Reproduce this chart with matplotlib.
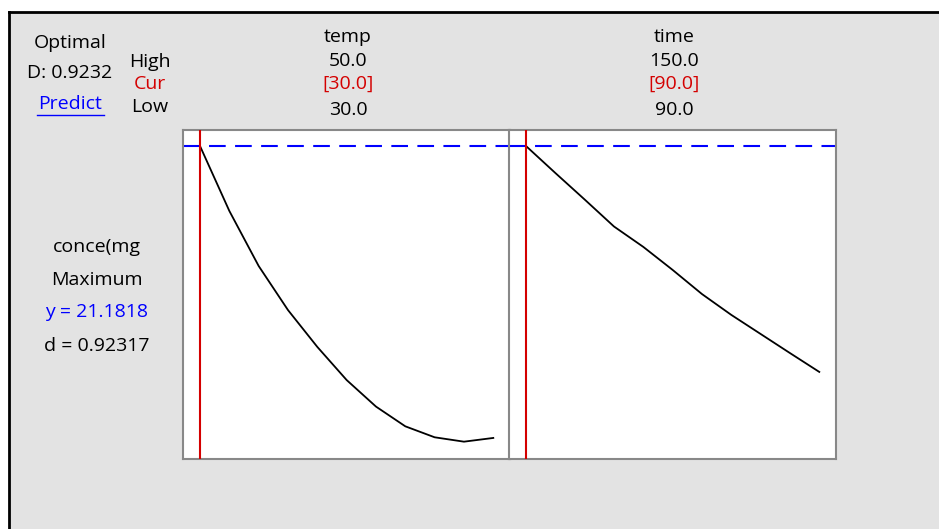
"""
Minitab style response optimizer plot: conce(mg vs temp and time
"""

import matplotlib

matplotlib.use('Agg')

import matplotlib.pyplot as plt
from matplotlib.patches import Rectangle
from matplotlib.lines import Line2D

# data
temp_vals = [30, 32, 34, 36, 38, 40, 42, 44, 46, 48, 50]
temp_resp = [21.18, 18.22, 15.71, 13.70, 12.02, 10.51, 9.30, 8.40, 7.90, 7.70, 7.87]
time_vals = [90, 96, 102, 108, 114, 120, 126, 132, 138, 144, 150]
time_resp = [21.18, 19.95, 18.74, 17.51, 16.58, 15.53, 14.43, 13.48, 12.61, 11.74, 10.88]

factors = ['temp', 'time']
high = [50.0, 150.0]
low = [30.0, 90.0]
cur = [30.0, 90.0]
y_opt = 21.1818
d_opt = 0.92317
D_total = 0.9232
y_lim = (6.91, 21.91)

W, H = 939, 529
plt.rcParams['font.family'] = ['Open Sans', 'DejaVu Sans']
FS = 14
RED = '#d40000'
BLUE = '#0000ff'

fig = plt.figure(figsize=(W / 100, H / 100), dpi=100, facecolor='white')


def fx(px):
    return px / W


def fy(py):
    return 1 - py / H


# gray background panel with black border on top/left
fig.patches.append(Rectangle((fx(9), 0), 1 - fx(9) + 0.01, fy(12), transform=fig.transFigure,
                             facecolor='#e3e3e3', edgecolor='none', zorder=-5))
fig.lines.append(Line2D([fx(9), 1], [fy(12), fy(12)], transform=fig.transFigure, color='black', lw=2))
fig.lines.append(Line2D([fx(9), fx(9)], [0, fy(12)], transform=fig.transFigure, color='black', lw=2))

# left header
fig.text(fx(70), fy(43), 'Optimal', ha='center', va='center', fontsize=FS)
fig.text(fx(70), fy(73), f'D: {D_total:.4f}', ha='center', va='center', fontsize=FS)
fig.text(fx(70), fy(104), 'Predict', ha='center', va='center', fontsize=FS, color=BLUE)
fig.lines.append(Line2D([fx(37), fx(104)], [fy(115), fy(115)], transform=fig.transFigure, color=BLUE, lw=1))
fig.text(fx(150), fy(62), 'High', ha='center', va='center', fontsize=FS)
fig.text(fx(150), fy(84), 'Cur', ha='center', va='center', fontsize=FS, color=RED)
fig.text(fx(150), fy(107), 'Low', ha='center', va='center', fontsize=FS)

# response block
fig.text(fx(97), fy(247), 'conce(mg', ha='center', va='center', fontsize=FS)
fig.text(fx(97), fy(280), 'Maximum', ha='center', va='center', fontsize=FS)
fig.text(fx(97), fy(312), f'y = {y_opt:.4f}', ha='center', va='center', fontsize=FS, color=BLUE)
fig.text(fx(97), fy(346), f'd = {d_opt:.5f}', ha='center', va='center', fontsize=FS)

panels = [(temp_vals, temp_resp), (time_vals, time_resp)]
left_px = [183, 509]
for i, (xs, ys) in enumerate(panels):
    ax = fig.add_axes([fx(left_px[i]), fy(459), 327 / W, 329 / H])
    rng = high[i] - low[i]
    ax.set_xlim(low[i] - 0.058 * rng, high[i] + 0.057 * rng)
    ax.set_ylim(*y_lim)
    ax.set_facecolor('white')
    ax.plot(xs, ys, color='black', lw=1.3, zorder=3)
    ax.axvline(cur[i], color=RED, lw=1.5, zorder=4)
    ax.axhline(y_opt, color=BLUE, lw=1.5, ls=(0, (8, 4.5)), zorder=2)
    ax.set_xticks([])
    ax.set_yticks([])
    for s in ax.spines.values():
        s.set_color('#888888')
        s.set_linewidth(1.5)

    cx = left_px[i] + 165
    fig.text(fx(cx), fy(37), factors[i], ha='center', va='center', fontsize=FS)
    fig.text(fx(cx), fy(61), f'{high[i]:.1f}', ha='center', va='center', fontsize=FS)
    fig.text(fx(cx), fy(84), f'[{cur[i]:.1f}]', ha='center', va='center', fontsize=FS, color=RED)
    fig.text(fx(cx), fy(110), f'{low[i]:.1f}', ha='center', va='center', fontsize=FS)

plt.savefig('out.png', dpi=100)
plt.close()
